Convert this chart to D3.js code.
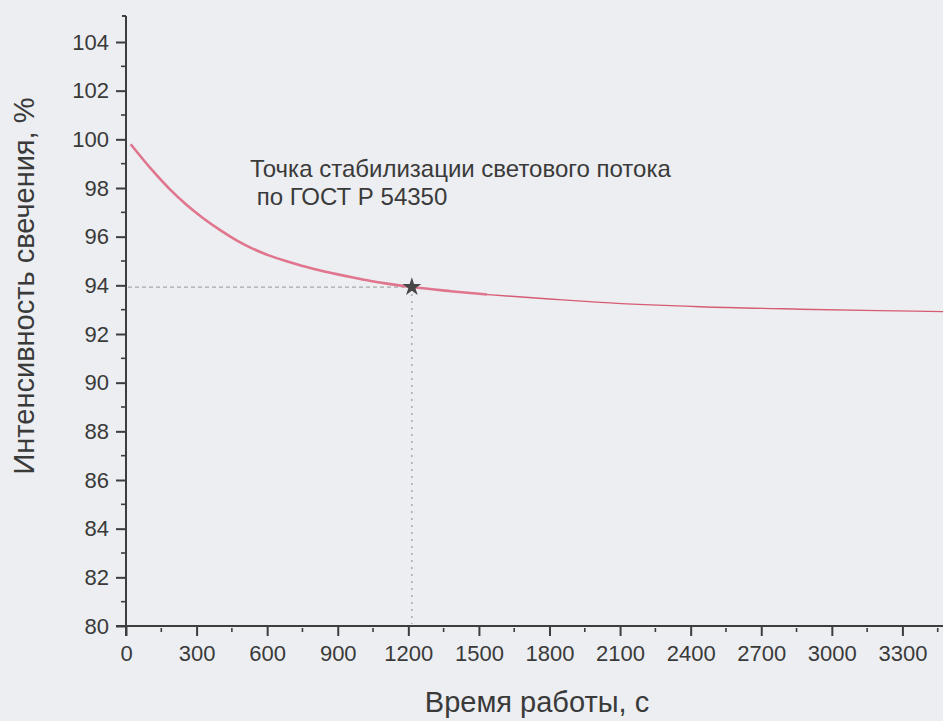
<!DOCTYPE html>
<html>
<head>
<meta charset="utf-8">
<script src="https://cdn.jsdelivr.net/npm/d3@7"></script>
<style>
html,body{margin:0;padding:0;background:#eceef1;overflow:hidden;}
svg{display:block;}
</style>
</head>
<body>
<svg id="chart" width="943" height="721"></svg>
<script>
// ---- data ----
const xTickValues = [0, 300, 600, 900, 1200, 1500, 1800, 2100, 2400, 2700, 3000, 3300];
const yTickValues = [80, 82, 84, 86, 88, 90, 92, 94, 96, 98, 100, 102, 104];
// early (thick) portion of the curve
const timeEarly = [20, 117, 189, 258, 328, 399, 470, 540, 610, 690, 760, 830, 900, 970, 1040, 1110, 1215, 1380, 1535];
const intensityEarly = [99.8, 98.67, 97.92, 97.3, 96.76, 96.28, 95.85, 95.5, 95.22, 94.97, 94.77, 94.6, 94.45, 94.31, 94.18, 94.07, 93.93, 93.76, 93.62];
// late (thin) portion of the curve
const timeLate = [1535, 1800, 2016, 2440, 2866, 3200, 3474, 3600];
const intensityLate = [93.62, 93.44, 93.3, 93.12, 93.02, 92.96, 92.92, 92.9];
// stabilisation point
const stabTime = 1215;
const stabValue = 93.93;
const xTitle = "Время работы, с";
const yTitle = "Интенсивность свечения, %";
const noteLines = ["Точка стабилизации светового потока", " по ГОСТ Р 54350"];

// ---- layout ----
const svg = d3.select("#chart");
const font = "'Liberation Sans', Arial, sans-serif";
const axisColor = "#3d3d3d";
const textColor = "#3a3a3a";

const x = d3.scaleLinear().domain([0, 3600]).range([126, 973]);
const y = d3.scaleLinear().domain([80, 104]).range([626, 42]);

svg.append("rect").attr("width", 943).attr("height", 721).attr("fill", "#eceef1");

// y axis
const yAxisG = svg.append("g").attr("transform", `translate(${x(0)},0)`);
yAxisG.call(d3.axisLeft(y).tickValues(yTickValues).tickSize(10).tickPadding(7).tickFormat(d3.format("d")));
yAxisG.call(g => g.selectAll(".minor").data(d3.range(81, 105, 2)).enter().append("line")
  .attr("class", "minor").attr("x1", -5).attr("x2", 0)
  .attr("y1", d => y(d)).attr("y2", d => y(d)));
yAxisG.select(".domain").remove();
yAxisG.append("line").attr("x1", 0).attr("x2", 0).attr("y1", y(80) + 10).attr("y2", 16);
yAxisG.append("line").attr("x1", -4).attr("x2", 0).attr("y1", 16).attr("y2", 16);

// x axis
const xAxisG = svg.append("g").attr("transform", `translate(0,${y(80)})`);
xAxisG.call(d3.axisBottom(x).tickValues(xTickValues).tickSize(10).tickPadding(9).tickFormat(d3.format("d")));
xAxisG.call(g => g.selectAll(".minor").data(d3.range(150, 3600, 300)).enter().append("line")
  .attr("class", "minor").attr("y1", 2).attr("y2", 6)
  .attr("x1", d => x(d)).attr("x2", d => x(d)));
xAxisG.select(".domain").remove();
xAxisG.append("line").attr("x1", x(0) - 10).attr("x2", 943).attr("y1", 0).attr("y2", 0);

[yAxisG, xAxisG].forEach(g => {
  g.selectAll("line").attr("stroke", axisColor).attr("stroke-width", 2);
  g.selectAll(".minor").attr("stroke-width", 1.6);
  g.selectAll("text").attr("fill", textColor).attr("font-family", font).attr("font-size", 22);
});

// guide lines
svg.append("line")
  .attr("x1", x(0) + 2).attr("x2", x(stabTime)).attr("y1", y(stabValue)).attr("y2", y(stabValue))
  .attr("stroke", "#a8a8a8").attr("stroke-width", 1.2).attr("stroke-dasharray", "4,3");
svg.append("line")
  .attr("x1", x(stabTime)).attr("x2", x(stabTime)).attr("y1", y(stabValue)).attr("y2", y(80) - 2)
  .attr("stroke", "#9a9a9a").attr("stroke-width", 1.2).attr("stroke-dasharray", "2,5");

// curve
const line = d3.line().curve(d3.curveMonotoneX);
svg.append("path")
  .attr("d", line(timeLate.map((t, i) => [x(t), y(intensityLate[i])])))
  .attr("fill", "none").attr("stroke", "#d65c74").attr("stroke-width", 1.4);
svg.append("path")
  .attr("d", line(timeEarly.map((t, i) => [x(t), y(intensityEarly[i])])))
  .attr("fill", "none").attr("stroke", "#e0758e").attr("stroke-width", 2.6);

// star marker
svg.append("path")
  .attr("d", d3.symbol().type(d3.symbolStar).size(110)())
  .attr("transform", `translate(${x(stabTime)},${y(stabValue)})`)
  .attr("fill", "#474747");

// annotation
const note = svg.append("text").attr("font-family", font).attr("font-size", 24).attr("fill", textColor)
  .attr("xml:space", "preserve");
noteLines.forEach((s, i) => {
  note.append("tspan").attr("x", 250).attr("y", 177 + i * 28).attr("xml:space", "preserve").text(s);
});

// axis titles
svg.append("text").attr("x", 537).attr("y", 712).attr("text-anchor", "middle")
  .attr("font-family", font).attr("font-size", 29).attr("fill", textColor).text(xTitle);
svg.append("text").attr("transform", "translate(34,286) rotate(-90)").attr("text-anchor", "middle")
  .attr("font-family", font).attr("font-size", 29).attr("fill", textColor).text(yTitle);
</script>
</body>
</html>
